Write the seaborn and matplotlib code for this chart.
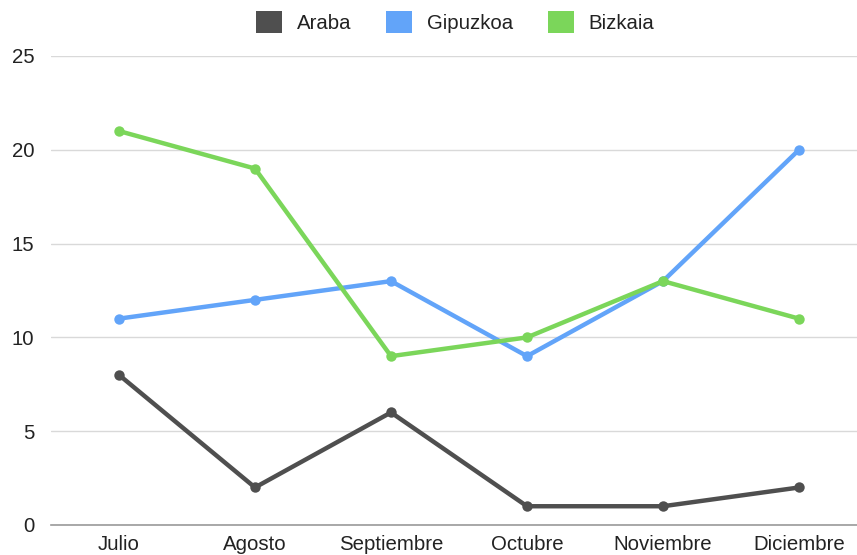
import matplotlib
matplotlib.use("Agg")
import matplotlib.pyplot as plt
from matplotlib.patches import Patch
import seaborn as sns
import pandas as pd

months = ["Julio", "Agosto", "Septiembre", "Octubre", "Noviembre", "Diciembre"]
araba = [8, 2, 6, 1, 1, 2]
gipuzkoa = [11, 12, 13, 9, 13, 20]
bizkaia = [21, 19, 9, 10, 13, 11]
series_names = ["Araba", "Gipuzkoa", "Bizkaia"]
colors = ["#4f4f4f", "#62a4f9", "#7bd65a"]
yticks = [0, 5, 10, 15, 20, 25]

rows = []
for name, vals in zip(series_names, [araba, gipuzkoa, bizkaia]):
    for i, (m, v) in enumerate(zip(months, vals)):
        rows.append({"idx": i, "month": m, "value": v, "series": name})
df = pd.DataFrame(rows)

sns.set_theme(style="white")
plt.rcParams["font.family"] = ["Liberation Sans", "DejaVu Sans"]

fig = plt.figure(figsize=(8.57, 5.55), dpi=100)
ax = fig.add_axes([51 / 857, 1 - 525 / 555, 1 - 51 / 857, (525 - 56) / 555])

sns.lineplot(data=df, x="idx", y="value", hue="series", hue_order=series_names,
             palette=colors, marker="o", markersize=7.5, markeredgewidth=0,
             linewidth=3.2, ax=ax, legend=False, zorder=3)

ax.set_xlim(-0.5, 5 + (857 - 799) / 136)
ax.set_ylim(0, 25)
ax.set_yticks(yticks)
ax.set_xticks(range(len(months)))
ax.set_xticklabels(months)
ax.set_xlabel("")
ax.set_ylabel("")
ax.grid(axis="y", color="#d9d9d9", linewidth=1)
ax.set_axisbelow(True)
for s in ["top", "right", "left"]:
    ax.spines[s].set_visible(False)
ax.spines["bottom"].set_color("#9a9a9a")
ax.spines["bottom"].set_linewidth(1.2)
ax.spines["bottom"].set_zorder(1)
ax.tick_params(axis="both", length=0, labelsize=14.7, labelcolor="#222222")
ax.tick_params(axis="y", pad=12)
ax.tick_params(axis="x", pad=7)

handles = [Patch(facecolor=c, edgecolor="none", label=n) for n, c in zip(series_names, colors)]
fig.legend(handles=handles, loc="center", bbox_to_anchor=(455 / 857, 1 - 22 / 555),
           ncol=3, frameon=False, fontsize=14.7, handlelength=1.3, handleheight=1.3,
           handletextpad=0.7, columnspacing=1.7)
for t in fig.legends[0].get_texts():
    t.set_color("#222222")

fig.savefig("out.png", dpi=100)
